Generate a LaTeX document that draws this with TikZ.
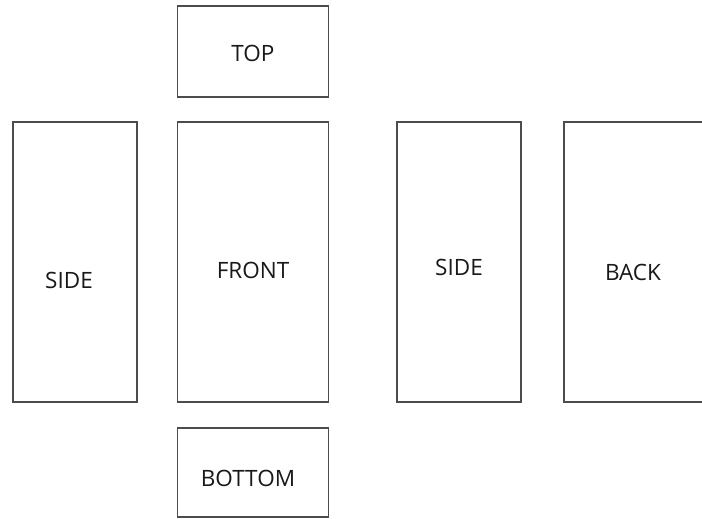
\documentclass[tikz,border=0pt]{standalone}
\usepackage{fontspec}
\setmainfont{Open Sans}
\begin{document}
\begin{tikzpicture}[x=1pt,y=-1pt,
  face/.style={draw=black!70, line width=1.3pt, fill=white, inner sep=0pt},
  lbl/.style={font=\fontsize{22.5}{26}\selectfont, text=black!90, inner sep=0pt}]
\useasboundingbox (0,0) rectangle (702,519);
\clip (0,0) rectangle (702,519);
\fill[white] (0,0) rectangle (702,519);
\node[face, minimum width=151pt, minimum height=91pt] (top) at (253,51.5) {};
\node[face, minimum width=124pt, minimum height=280pt] (lside) at (75,262) {};
\node[face, minimum width=151pt, minimum height=280pt] (front) at (253,262) {};
\node[face, minimum width=124pt, minimum height=280pt] (rside) at (459,262) {};
\node[face, minimum width=160pt, minimum height=280pt] (back) at (644,262) {};
\node[face, minimum width=151pt, minimum height=89pt] (bottom) at (253,472.5) {};
\node[lbl] (ttop) at (253,53) {TOP};
\node[lbl] (tlside) at (69,280) {SIDE};
\node[lbl] (tfront) at (253,270) {FRONT};
\node[lbl] (trside) at (459,267) {SIDE};
\node[lbl] (tback) at (633,272) {BACK};
\node[lbl] (tbottom) at (248,478) {BOTTOM};
\end{tikzpicture}
\end{document}
